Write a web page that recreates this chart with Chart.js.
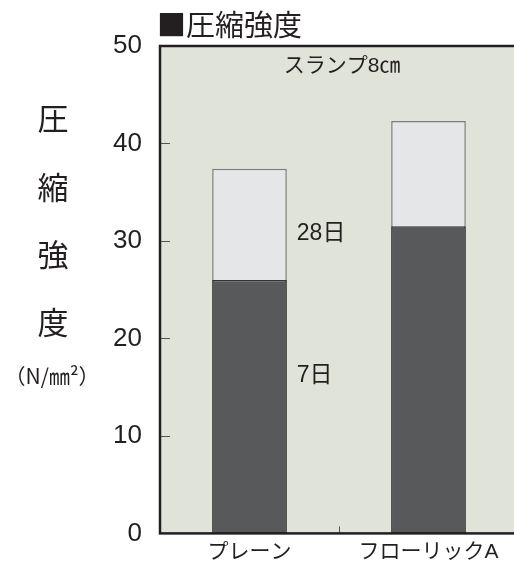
<!DOCTYPE html>
<html>
<head>
<meta charset="utf-8">
<script src="https://cdn.jsdelivr.net/npm/chart.js@4/dist/chart.umd.min.js"></script>
<style>
  html, body { margin: 0; padding: 0; background: #fff; overflow: hidden; }
  #wrap { width: 514px; height: 567px; overflow: hidden; }
</style>
</head>
<body>
<div id="wrap"><canvas id="myChart" width="530" height="567"></canvas></div>
<script>
// data
const categories = ["プレーン", "フローリックA"];
const day7Values = [26.0, 31.5];
const day28Values = [37.4, 42.3];
const seriesNames = ["7日", "28日"];
const yMin = 0;
const yMax = 50;
const yStep = 10;

const FONT = '"Liberation Sans", "Noto Sans CJK JP", sans-serif';
const CJK = '"Noto Sans CJK JP", sans-serif';
const INK = "#231f20";

// background, borders, inner ticks and free texts
const decoPlugin = {
  id: "deco",
  beforeDraw(chart) {
    const { ctx, chartArea: a } = chart;
    ctx.save();
    ctx.fillStyle = "#dfe3d8";
    ctx.fillRect(a.left, a.top, a.right - a.left, a.bottom - a.top);
    ctx.restore();
  },
  afterDraw(chart) {
    const { ctx, chartArea: a } = chart;
    const y = chart.scales.y;
    const x = chart.scales.x;
    ctx.save();

    // small ticks inside the plot
    ctx.strokeStyle = "#555";
    ctx.lineWidth = 1;
    y.ticks.forEach((t) => {
      if (t.value === yMin || t.value === yMax) return;
      const py = Math.round(y.getPixelForValue(t.value)) + 0.5;
      ctx.beginPath();
      ctx.moveTo(a.left, py);
      ctx.lineTo(a.left + 10, py);
      ctx.stroke();
    });
    const mid = Math.round((x.getPixelForValue(0) + x.getPixelForValue(1)) / 2) + 0.5;
    ctx.beginPath();
    ctx.moveTo(mid, a.bottom);
    ctx.lineTo(mid, a.bottom - 7);
    ctx.stroke();

    // frame
    ctx.strokeStyle = INK;
    ctx.lineWidth = 2.5;
    ctx.strokeRect(a.left, a.top, a.right - a.left, a.bottom - a.top);

    ctx.fillStyle = INK;
    ctx.textBaseline = "middle";

    // title
    ctx.textAlign = "left";
    ctx.font = "29px " + CJK;
    ctx.fillText("■圧縮強度", 157, 25);

    // slump note
    ctx.textAlign = "center";
    ctx.font = "21px " + FONT;
    ctx.fillText("スランプ8㎝", (a.left + a.right) / 2 + 3, 66);

    // y axis title, stacked
    ctx.font = "31px " + CJK;
    const chars = ["圧", "縮", "強", "度"];
    const ys = [118, 187, 254, 322];
    chars.forEach((c, i) => ctx.fillText(c, 53, ys[i]));
    ctx.font = "21px " + CJK;
    ctx.fillText("（N/㎜²）", 52, 376);

    // series labels next to first bar
    const bar = chart.getDatasetMeta(0).data[0];
    const lx = bar.x + bar.width / 2 + 10;
    ctx.textAlign = "left";
    ctx.font = "23px " + FONT;
    ctx.fillText(seriesNames[1], lx, y.getPixelForValue(30.8));
    ctx.fillText(seriesNames[0], lx, y.getPixelForValue(16.2));

    ctx.restore();
  },
};

const ctx = document.getElementById("myChart").getContext("2d");
const chart = new Chart(ctx, {
  type: "bar",
  data: {
    labels: categories,
    datasets: [
      {
        label: seriesNames[0],
        data: day7Values,
        backgroundColor: "#58595b",
        borderColor: "#333333",
        borderWidth: 1.5,
        borderSkipped: false,
        grouped: false,
        order: 0,
      },
      {
        label: seriesNames[1],
        data: day28Values,
        backgroundColor: "#e5e6e8",
        borderColor: "#7d7d7d",
        borderWidth: 1.5,
        borderSkipped: false,
        grouped: false,
        order: 1,
      },
    ],
  },
  options: {
    responsive: false,
    devicePixelRatio: 1,
    animation: false,
    layout: { padding: { top: 46, right: 12, left: 0, bottom: 0 } },
    plugins: {
      legend: { display: false },
      tooltip: { enabled: false },
    },
    datasets: {
      bar: { categoryPercentage: 1, barPercentage: 0.417 },
    },
    scales: {
      x: {
        grid: { display: false, drawTicks: false },
        border: { display: false },
        ticks: { color: INK, font: { family: FONT, size: 21 }, padding: 6 },
        afterFit: (s) => { s.height = 27; },
      },
      y: {
        min: yMin,
        max: yMax,
        grid: { display: false, drawTicks: false },
        border: { display: false },
        ticks: { stepSize: yStep, color: INK, font: { family: FONT, size: 26 }, padding: 18 },
        afterFit: (s) => { s.width = 160; },
      },
    },
  },
  plugins: [decoPlugin],
});
</script>
</body>
</html>
